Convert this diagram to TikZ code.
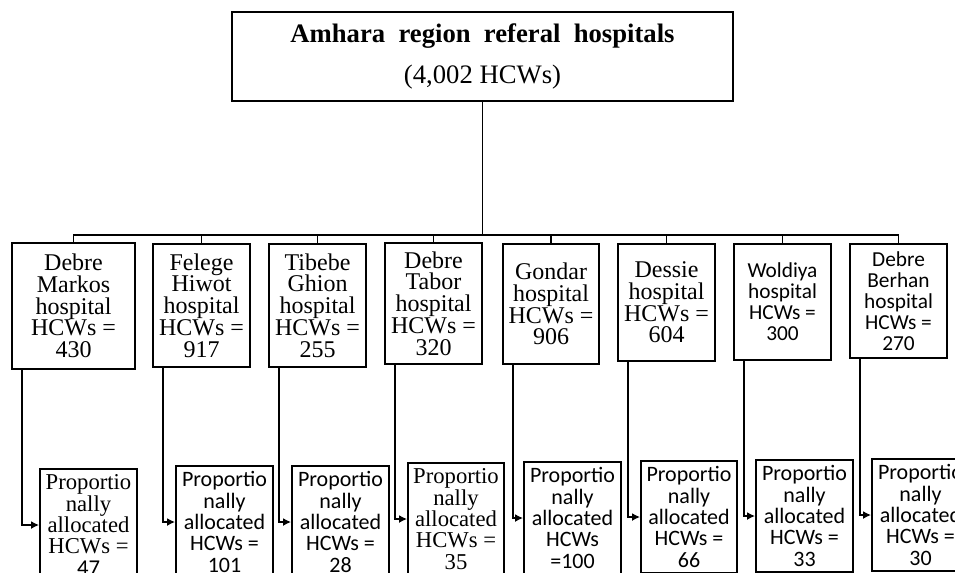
\documentclass[tikz,border=0pt]{standalone}
\usepackage{fontspec}
\setmainfont{Liberation Serif}
\newfontfamily\calibri{Carlito}
\usetikzlibrary{arrows.meta}

\begin{document}
\begin{tikzpicture}[x=0.75pt,y=-0.75pt,line width=1.4pt,
  box/.style={draw,line width=1.4pt,align=center,inner sep=0pt},
  hosp/.style={box,minimum width=72.75pt,font=\fontsize{18}{16.3}\selectfont},
  hospsans/.style={hosp,font=\calibri\fontsize{16}{15.8}\selectfont},
  alloc/.style={box,minimum width=72.75pt,minimum height=84pt,font=\calibri\fontsize{16.5}{16}\selectfont},
  allocserif/.style={alloc,font=\fontsize{17}{16}\selectfont},
  feed/.style={-{Latex[length=6pt,width=6pt]}}]
\useasboundingbox (0,0) rectangle (955,572);
\clip (0,0) rectangle (955,572);
% top box
\node[box,minimum width=375.75pt,minimum height=66.75pt,font=\fontsize{20}{31}\selectfont] (top) at (482.5,56.5)
  {\textbf{Amhara\ \ region\ \ referal\ \ hospitals}\\(4,002 HCWs)};
% hospitals
\node[hosp,minimum width=92.25pt,minimum height=94.5pt] (h1) at (73.5,306) {Debre\\Markos\\hospital\\HCWs =\\430};
\node[hosp,minimum height=92.25pt] (h2) at (201.5,305.5) {Felege\\Hiwot\\hospital\\HCWs =\\917};
\node[hosp,minimum height=92.25pt] (h3) at (317.5,305.5) {Tibebe\\Ghion\\hospital\\HCWs =\\255};
\node[hosp,minimum height=90.75pt] (h4) at (433.5,303.5) {Debre\\Tabor\\hospital\\HCWs =\\320};
\node[hosp,minimum width=72pt,minimum height=90pt] (h5) at (551,304) {Gondar\\hospital\\HCWs =\\906};
\node[hosp,minimum height=87.75pt] (h6) at (666.5,302.5) {Dessie\\hospital\\HCWs =\\604};
\node[hospsans,minimum height=87pt] (h7) at (782.5,302) {Woldiya\\hospital\\HCWs =\\300};
\node[hospsans,minimum height=85.5pt] (h8) at (898.5,301) {Debre\\Berhan\\hospital\\HCWs =\\270};
% allocated
\node[allocserif] (p1) at (88.5,525) {Proportio\\nally\\allocated\\HCWs =\\{\calibri 47}};
\node[alloc] (p2) at (224.5,522) {Proportio\\nally\\allocated\\HCWs =\\101};
\node[alloc] (p3) at (340.5,522) {Proportio\\nally\\allocated\\HCWs =\\28};
\node[allocserif,minimum width=72pt] (p4) at (456,519) {Proportio\\nally\\allocated\\HCWs =\\35};
\node[alloc] (p5) at (572.5,518) {Proportio\\nally\\allocated\\HCWs\\=100};
\node[alloc,minimum width=72pt] (p6) at (689,517) {Proportio\\nally\\allocated\\HCWs =\\66};
\node[alloc] (p7) at (804.5,516) {Proportio\\nally\\allocated\\HCWs =\\33};
\node[alloc] (p8) at (920.5,515) {Proportio\\nally\\allocated\\HCWs =\\30};
% tree
\coordinate (bar) at (0,235);
\draw (top.south) -- (top.south |- bar);
\foreach \i in {1,...,8}
  \draw (top.south |- bar) -| (h\i.north);
\foreach \i in {1,...,8}
  \draw[feed] ([xshift=8pt]h\i.south west) |- (p\i.west);
\end{tikzpicture}
\end{document}
